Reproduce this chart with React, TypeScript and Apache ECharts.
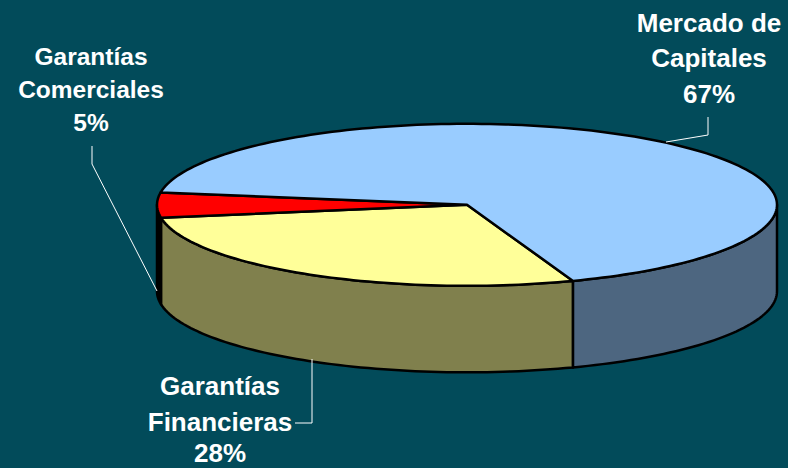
import React, { useEffect, useRef } from "react";
import * as echarts from "echarts";

const categories = ["Garantías Financieras", "Garantías Comerciales", "Mercado de Capitales"];
const labelLines = [["Garantías", "Financieras"], ["Garantías", "Comerciales"], ["Mercado de", "Capitales"]];
const values = [28, 5, 67];
const topColors = ["#FFFF99", "#FF0000", "#99CCFF"];
const sideColors = ["#80804D", "#000000", "#4D6680"];

const START_DEG = 70;
const CX = 467, CY = 204.8, RX = 310, RY = 81, DEPTH = 86.5;
const total = values.reduce((a, b) => a + b, 0);

function pt(deg: number, dy = 0): number[] {
  const t = (deg * Math.PI) / 180;
  return [CX + RX * Math.cos(t), CY + RY * Math.sin(t) + dy];
}

function arc(from: number, to: number, dy = 0): number[][] {
  const out: number[][] = [];
  const steps = Math.max(2, Math.ceil((to - from) / 1.5));
  for (let i = 0; i <= steps; i++) out.push(pt(from + ((to - from) * i) / steps, dy));
  return out;
}

const renderItem = (params: any, api: any) => {
  const i = params.dataIndex;
  const before = values.slice(0, i).reduce((a, b) => a + b, 0);
  const from = START_DEG + (before / total) * 360;
  const to = from + (api.value(0) / total) * 360;
  const children: any[] = [];
  // visible wall: the part of the rim on the front half of the ellipse (0..180, 360..540)
  for (const [a, b] of [[0, 180], [360, 540]]) {
    const s = Math.max(from, a), e = Math.min(to, b);
    if (e > s) {
      children.push({
        type: "polygon",
        shape: { points: [...arc(s, e), ...arc(s, e, DEPTH).reverse()] },
        style: { fill: sideColors[i], stroke: "#000", lineWidth: 2.5, lineJoin: "round" },
      });
    }
  }
  children.push({
    type: "polygon",
    shape: { points: [[CX, CY], ...arc(from, to)] },
    style: { fill: topColors[i], stroke: "#000", lineWidth: 2.5, lineJoin: "round" },
  });
  return { type: "group", children };
};

const labelStyle = (size: number) => ({
  fill: "#FFFFFF",
  font: `bold ${size}px "Liberation Sans", Arial, sans-serif`,
  textAlign: "center" as const,
  textVerticalAlign: "middle" as const,
});

const labelPlacement = [
  { x: 220, ys: [386, 422, 453], size: 26 },
  { x: 91, ys: [56, 89, 122], size: 24.5 },
  { x: 709, ys: [23, 58, 94], size: 26 },
];

const leaders = [
  [[312, 359], [312, 423], [295, 423]],
  [[92, 146], [92, 164], [157, 291]],
  [[708, 117], [708, 135], [666, 142]],
];

export default function App() {
  const ref = useRef<HTMLDivElement>(null);
  useEffect(() => {
    document.body.style.margin = "0";
    const chart = echarts.init(ref.current!, undefined, { renderer: "svg" });
    const texts: any[] = [];
    categories.forEach((_, i) => {
      const p = labelPlacement[i];
      [...labelLines[i], `${values[i]}%`].forEach((line, j) => {
        texts.push({
          type: "text",
          x: p.x,
          y: p.ys[j],
          style: { text: line, ...labelStyle(p.size) },
        });
      });
    });
    const lines = leaders.map((points) => ({
      type: "polyline",
      shape: { points },
      style: { stroke: "#FFFFFF", lineWidth: 1, fill: "none" },
      z: 10,
    }));
    chart.setOption({
      animation: false,
      backgroundColor: "#024B5A",
      graphic: [...lines, ...texts],
      series: [
        {
          type: "custom",
          coordinateSystem: "none",
          renderItem,
          data: values.map((v, i) => ({ name: categories[i], value: [v] })),
          silent: true,
          z: 2,
        },
      ],
    });
    return () => chart.dispose();
  }, []);
  return <div ref={ref} style={{ width: 788, height: 468 }} />;
}
